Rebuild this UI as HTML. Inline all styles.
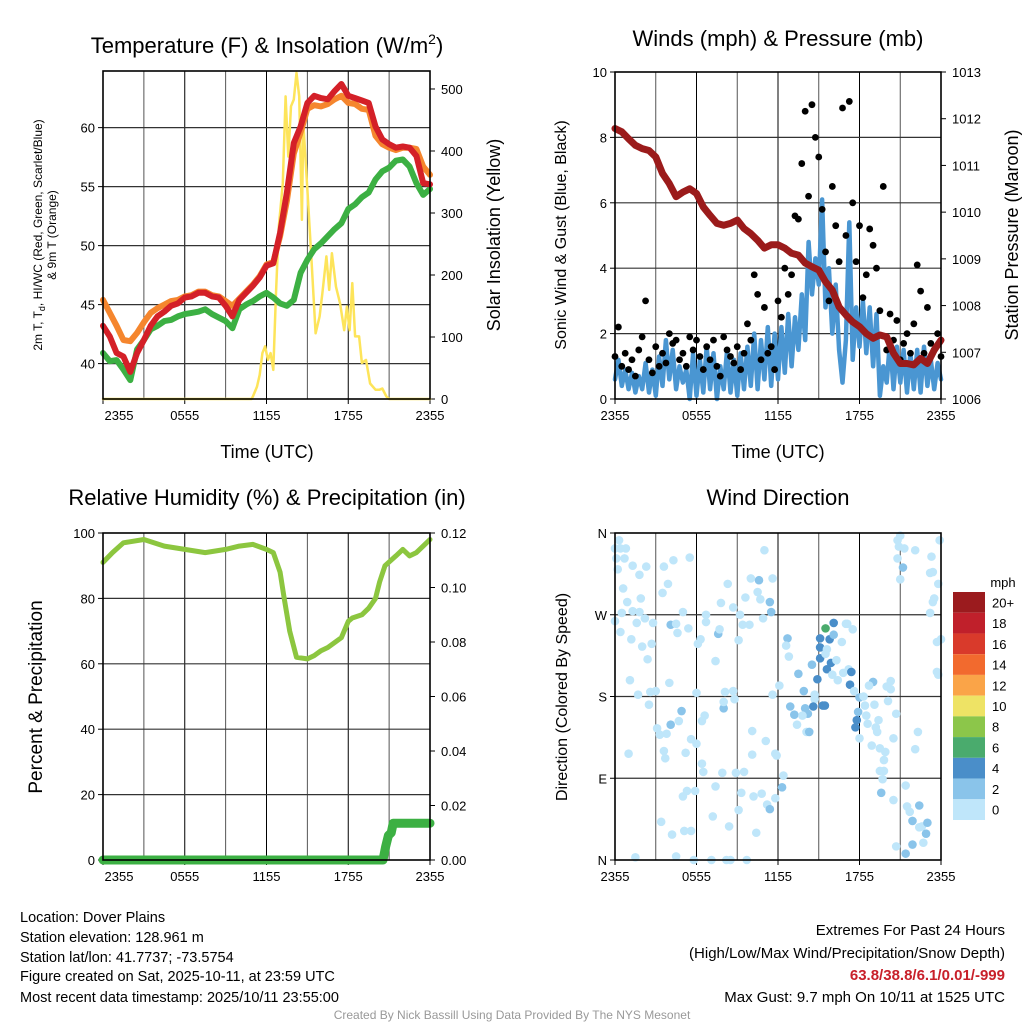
<!DOCTYPE html>
<html><head><meta charset="utf-8"><style>
html,body{margin:0;padding:0;background:#fff;}
svg{display:block;font-family:"Liberation Sans",sans-serif;}
</style></head><body>
<svg id="fig" width="1024" height="1024" viewBox="0 0 1024 1024" xmlns="http://www.w3.org/2000/svg">
<rect width="1024" height="1024" fill="#fff"/>
<g id="g"></g>
<text x="267" y="53" font-size="22" text-anchor="middle">Temperature (F) &amp; Insolation (W/m<tspan dy="-9" font-size="14">2</tspan><tspan dy="9">)</tspan></text>
<text x="778" y="46" font-size="22" text-anchor="middle">Winds (mph) &amp; Pressure (mb)</text>
<text x="267" y="505" font-size="22" text-anchor="middle">Relative Humidity (%) &amp; Precipitation (in)</text>
<text x="778" y="505" font-size="22" text-anchor="middle">Wind Direction</text>
<text x="267" y="458" font-size="18" text-anchor="middle">Time (UTC)</text>
<text x="778" y="458" font-size="18" text-anchor="middle">Time (UTC)</text>
<text transform="translate(42,235) rotate(-90)" font-size="12" text-anchor="middle">2m T, T<tspan dy="3" font-size="9">d</tspan><tspan dy="-3">, HI/WC (Red, Green, Scarlet/Blue)</tspan></text>
<text transform="translate(56,235) rotate(-90)" font-size="12" text-anchor="middle">&amp; 9m T (Orange)</text>
<text transform="translate(500,235) rotate(-90)" font-size="18" text-anchor="middle">Solar Insolation (Yellow)</text>
<text transform="translate(566,235) rotate(-90)" font-size="16" text-anchor="middle">Sonic Wind &amp; Gust (Blue, Black)</text>
<text transform="translate(1018,235) rotate(-90)" font-size="18" text-anchor="middle">Station Pressure (Maroon)</text>
<text transform="translate(42,697) rotate(-90)" font-size="19" text-anchor="middle">Percent &amp; Precipitation</text>
<text transform="translate(567,697) rotate(-90)" font-size="16" text-anchor="middle">Direction (Colored By Speed)</text>
<g font-size="14.5">
<text x="20" y="922">Location: Dover Plains</text>
<text x="20" y="942">Station elevation: 128.961 m</text>
<text x="20" y="962">Station lat/lon: 41.7737; -73.5754</text>
<text x="20" y="981">Figure created on Sat, 2025-10-11, at 23:59 UTC</text>
<text x="20" y="1002">Most recent data timestamp: 2025/10/11 23:55:00</text>
</g>
<g font-size="15" text-anchor="end">
<text x="1005" y="935">Extremes For Past 24 Hours</text>
<text x="1005" y="958">(High/Low/Max Wind/Precipitation/Snow Depth)</text>
<text x="1005" y="980" fill="#c8202a" font-weight="bold">63.8/38.8/6.1/0.01/-999</text>
<text x="1005" y="1002">Max Gust: 9.7 mph On 10/11 at 1525 UTC</text>
</g>
<text x="512" y="1019" font-size="12" fill="#999" text-anchor="middle">Created By Nick Bassill Using Data Provided By The NYS Mesonet</text>
</svg>
<script>
const xTickHours=[0,6,12,18,24];
const xTickLabels=['2355','0555','1155','1755','2355'];
const tHalf=[0,0.5,1,1.5,2,2.5,3,3.5,4,4.5,5,5.5,6,6.5,7,7.5,8,8.5,9,9.5,10,10.5,11,11.5,12,12.5,13,13.5,14,14.5,15,15.5,16,16.5,17,17.5,18,18.5,19,19.5,20,20.5,21,21.5,22,22.5,23,23.5,24];
const tempRed=[43.2,42.3,40.9,40.6,39.3,40.9,42.0,43.2,44.0,44.4,44.9,45.1,45.6,45.7,46.0,46.0,45.7,45.6,44.9,44.0,45.4,46.0,46.6,47.3,48.3,48.5,51.1,54.5,58.7,60.1,62.1,62.7,62.5,62.4,63.1,63.7,62.7,62.5,62.3,62.1,60.1,59.0,58.6,58.3,58.4,58.3,57.6,55.3,55.2];
const tempOrange=[45.4,44.3,43.2,42.0,41.9,42.6,43.5,44.3,44.7,45.0,45.3,45.4,45.7,45.8,46.1,46.1,45.8,45.7,45.3,44.9,45.5,46.1,46.7,47.4,48.4,48.6,50.8,53.8,57.8,59.6,61.6,61.9,61.8,62.0,62.4,62.7,62.1,62.0,61.6,61.5,59.3,58.6,58.3,58.1,58.3,58.3,58.2,56.7,56.0];
const dewGreen=[40.9,40.2,40.3,39.5,38.6,41.2,42.0,42.9,43.2,43.6,43.7,44.0,44.2,44.3,44.4,44.6,44.2,43.9,43.6,43.0,44.6,45.0,45.3,45.7,46.0,45.6,45.1,44.9,45.4,47.7,48.8,49.7,50.2,50.8,51.4,51.9,53.1,53.5,54.1,54.5,55.6,56.3,56.6,57.2,57.3,56.7,55.3,54.3,54.8];
const solarTime=[0,10.9,11.0,11.3,11.5,11.7,11.9,12.1,12.3,12.5,12.7,12.9,13.2,13.4,13.6,13.8,14.0,14.2,14.4,14.6,14.7,15.0,15.3,15.6,15.9,16.1,16.4,16.6,16.8,17.1,17.4,17.7,17.9,18.1,18.3,18.5,18.8,19.0,19.3,19.6,20.0,20.3,20.5,20.8,21.0,24];
const solarVal=[0,0,4,20,39,74,85,63,74,47,171,278,348,488,391,472,483,526,488,289,445,337,224,106,133,171,230,176,235,181,154,111,149,111,187,101,101,58,63,25,15,15,17,4,0,0];
const pressure=[1011.79,1011.72,1011.57,1011.43,1011.36,1011.32,1011.18,1010.83,1010.61,1010.33,1010.43,1010.50,1010.40,1010.11,1009.93,1009.76,1009.72,1009.76,1009.83,1009.65,1009.54,1009.40,1009.23,1009.30,1009.30,1009.23,1009.12,1009.08,1008.91,1008.83,1008.76,1008.51,1008.33,1007.97,1007.80,1007.65,1007.55,1007.40,1007.30,1007.37,1007.33,1006.98,1006.76,1006.76,1006.73,1006.87,1006.76,1007.05,1007.26];
const windSpeed=[0.6,1.2,0.4,0.9,0.3,0.8,0.2,0.7, 0.3,1.1,0.2,0.9,0.1,1.3,0.4,1.8, 0.6,1.5,0.3,1.0,0.5,0.9,0,1.4, 0.1,1.2,0.2,1.6,0.3,1.4,0,1.0, 0.3,1.5,0.2,1.2,0.1,1.4,0.3,1.6, 0.4,2.0,0.3,1.8,0.6,2.2,0.4,2.0, 0.6,2.2,0.8,2.6,1.0,2.5,1.5,3.2, 1.8,4.8,3.2,4.3,3.5,6.1,2.8,4.0, 2.0,3.5,1.5,0.5,1.8,5.4,1.2,2.8, 1.6,3.0,1.4,2.8,1.0,2.6,0.1,1.0, 0.5,1.8,0.3,1.6,0.5,1.5,0.2,1.4, 0.3,1.5,0.2,1.6,0.4,1.2,0.3,1.1,0.6];
const windGust=[1.3,2.2,1.0,1.4,0.9,1.2,0.7,1.5, 1.9,3.0,1.2,0.8,1.6,1.0,1.4,1.1, 2.0,1.7,1.8,1.2,1.4,1.0,1.9,1.5, 1.8,1.3,0.9,1.6,1.2,1.8,1.0,0.7, 1.9,1.5,1.3,1.1,1.6,0.9,1.4,2.3, 1.8,3.8,3.2,1.2,2.8,1.4,1.6,0.9, 3.0,2.5,4.0,3.2,3.8,5.6,5.5,7.2, 8.8,6.2,9.0,8.0,7.4,5.8,4.5,3.0, 6.5,5.3,4.2,8.9,5.0,9.1,6.0,4.2, 5.3,3.1,3.8,5.2,4.7,4.0,2.7,6.5, 1.5,2.6,1.8,2.4,1.2,1.7,2.0,1.4, 2.3,4.1,3.3,1.4,2.8,1.7,1.5,2.0,1.3];
const rhTime=[0,0.7,1.5,3,4.5,6,7.5,9,10,11,12,12.5,13,13.3,13.7,14.2,15,15.5,16,16.5,17.5,18,18.3,19,19.5,20,20.3,20.7,21.5,22,22.5,23,23.5,24];
const rhVal=[91,94,97,98,96,95,94,95,96,96.5,95,94,88,80,70,62,61.5,62.5,64,65,68,73,74,75,77,80,85,90,93,95,93,94,96,98];
const precipTime=[0,20.55,20.75,20.95,21.15,21.3,24];
const precipVal=[0,0,0.005,0.009,0.010,0.0135,0.0135];
const wdTime=[0.3,0,0.4,0.8,0.1,0.7,0.2,0.6,0.9,0.5,1.3,1.8,0,0.4,1.2,2.0,2.4,2.7,1.6,2.2,2.8,1.3,1.8,2.3,1.9,1.1,1.7,2.6,3.0,2.5,1.0,3.1,3.3,3.8,4.1,3.6,3.9,3.5,4.3,4.1,4.5,4.6,5.4,5.0,5.5,4.0,4.9,4.7,5.6,5.2,3.6,3.7,6.0,6.3,6.1,6.0,6.6,6.4,5.6,5.1,3.4,4.2,5.9,5.3,5.0,7.2,8.4,9.1,9.3,9.5,8.9,7.9,7.4,6.4,6.5,7.4,7.6,7.7,6.7,6.7,7.8,8.3,8.7,9.2,9.4,9.9,9.1,9.6,10.0,10.6,10.9,11.4,11.5,10.5,10.7,11.6,11.0,8.1,8.0,8.0,8.7,8.8,10.1,11.1,10.1,10.2,10.8,11.2,11.4,10.4,9.7,8.5,8.2,7.1,5.8,4.5,1.5,11.8,12.3,12.4,11.9,11.8,11.6,12.1,12.7,12.6,12.8,12.9,13.2,13.4,13.5,13.9,14.0,14.1,14.3,14.2,13.8,14.5,14.7,14.7,14.9,14.6,15.1,15.1,15.1,15.3,15.45,15.5,15.6,15.8,15.9,15.6,16.1,16.1,15.5,16.3,16.0,16.4,16.8,17.0,17.1,17.5,16.7,17.2,17.4,17.3,17.6,18.0,18.3,17.9,17.8,17.7,18.0,18.4,18.5,18.6,18.9,19.0,18.7,19.1,19.4,19.2,19.3,19.5,19.8,19.9,19.5,19.8,19.7,19.6,20.0,20.3,20.3,20.1,20.7,20.5,20.5,20.7,21.4,21.5,21.7,21.9,22.4,22.6,22.4,22.9,22.7,23.0,21.9,21.4,22.1,22.3,20.8,21.0,20.9,21.3,22.1,20.8,21.2,21.0,23.3,23.2,23.4,23.8,23.5,23.4,23.2,23.7,24,23.7,23.8,23.9];
const wdDir=[352,343,343,343,332,332,320,299,284,272,274,273,263,251,243,235,221,238,261,266,261,324,314,323,288,198,182,185,186,171,117,145,138,139,149,323,304,294,330,259,260,250,255,273,333,195,164,153,133,118,120,112,184,243,238,128,159,153,32,32,42,28,76,76,70,48,37,55,74,97,96,96,81,106,97,219,249,254,270,262,283,304,278,270,259,259,242,289,310,308,266,284,273,295,287,310,341,185,167,174,186,177,142,131,116,70,73,61,56,30,0,0,0,0,0,4,3,68,80,93,115,117,182,192,244,236,224,169,160,149,205,186,167,141,141,161,159,215,182,177,199,169,222,234,244,170,170,227,232,243,217,210,248,261,255,220,204,198,206,260,260,254,240,210,207,193,186,179,180,163,154,146,134,170,159,150,126,196,192,171,154,146,141,123,110,119,98,98,89,74,191,197,188,175,161,134,66,15,82,59,53,43,60,37,36,29,19,41,17,7,122,141,352,357,345,343,341,332,322,309,334,316,317,304,288,284,272,240,243,207,204,352];
const wdSpd=[1,1,1,1,1,1,1,1,1,1,1,1,1,1,1,1,1,1,1,1,1,1,1,1,1,1,1,1,1,1,1,1,1,1,3,1,1,1,1,3,1,1,1,1,1,1,3,1,1,1,1,1,1,1,1,1,1,1,1,1,1,1,1,1,1,1,1,1,1,1,1,1,1,1,1,1,3,1,1,1,1,1,1,1,1,1,1,1,1,3,1,3,3,1,1,1,1,1,3,1,1,1,1,1,1,1,1,1,3,1,1,1,1,1,1,1,1,1,3,1,1,1,1,1,3,1,1,3,3,1,3,3,3,1,3,3,1,3,1,1,4.5,4.5,4.5,4.5,4.5,4.5,4.5,1,1,4.5,4.5,4.5,3,4.5,7,1,1,1,1,1,1,1,1,1,4.5,4.5,1,3,1,3,4.5,4.5,1,1,1,1,1,3,1,1,1,1,1,1,1,1,1,1,1,3,1,1,1,1,1,1,1,1,1,1,1,3,3,1,1,3,1,3,3,3,1,1,1,1,1,1,1,1,3,1,1,1,1,1,1,1,1,1,1,1,1,1,1,1];
const cbLabels=['20+','18','16','14','12','10','8','6','4','2','0'];
const cbColors=['#9b1b1e','#c0202b','#d93a2b','#f26a2e','#faa448','#eee365','#8cc64a','#4aab6d','#4a8ec9','#8ac4ea','#bfe6fa'];

const NS='http://www.w3.org/2000/svg';
const G=document.getElementById('g');
function el(tag,attrs,parent){const e=document.createElementNS(NS,tag);for(const k in attrs)e.setAttribute(k,attrs[k]);(parent||G).appendChild(e);return e;}
function lin(d0,d1,r0,r1){return v=>r0+(v-d0)/(d1-d0)*(r1-r0);}

const P=[
 {x0:103,x1:430,y0:71,y1:399,l:[37.0,64.8],r:[0,529]},
 {x0:615,x1:941,y0:72,y1:399,l:[0,10],r:[1006,1013]},
 {x0:103,x1:430,y0:533,y1:860,l:[0,100],r:[0,0.12]},
 {x0:615,x1:941,y0:533,y1:860,l:[0,360],r:null}
];
P.forEach(p=>{p.X=lin(0,24,p.x0,p.x1);p.YL=lin(p.l[0],p.l[1],p.y1,p.y0);if(p.r)p.YR=lin(p.r[0],p.r[1],p.y1,p.y0);});

function frame(p,name,leftTicks,leftLabels,rightTicks,rightLabels,hgrid){
  for(let h=3;h<24;h+=3){const l=el('line',{x1:p.X(h),x2:p.X(h),y1:p.y0,y2:p.y1,stroke:h%6==0?'#000':'#555','stroke-width':1});
    
    }
  hgrid.forEach(v=>{const y=p.YL(v);const l=el('line',{x1:p.x0,x2:p.x1,y1:y,y2:y,stroke:'#333','stroke-width':1.2});
    
    });
  leftTicks.forEach((v,i)=>{const y=p.YL(v);
    const tk=el('line',{x1:p.x0-5,x2:p.x0,y1:y,y2:y,stroke:'#000','stroke-width':1});
    
    
    const t=el('text',{x:p.x0-8,y:y+5,'font-size':13,'text-anchor':'end'});t.textContent=leftLabels[i];
    
    });
  if(rightTicks)rightTicks.forEach((v,i)=>{const y=p.YR(v);
    const tk=el('line',{x1:p.x1,x2:p.x1+5,y1:y,y2:y,stroke:'#000','stroke-width':1});
    
    
    const t=el('text',{x:p.x1+11,y:y+5,'font-size':13});t.textContent=rightLabels[i];
    
    });
  xTickHours.forEach((h,i)=>{const x=p.X(h);
    const tk=el('line',{x1:x,x2:x,y1:p.y1,y2:p.y1+5,stroke:'#000','stroke-width':1});
    
    
    const t=el('text',{x:x+(i==0&&p.x0<200?16:0),y:p.y1+21,'font-size':13,'text-anchor':'middle'});t.textContent=xTickLabels[i];
    
    });
}
function border(p,name){const r=el('rect',{x:p.x0,y:p.y0,width:p.x1-p.x0,height:p.y1-p.y0,fill:'none',stroke:'#000','stroke-width':1.6});
  
  }
function path(p,xs,ys,yf,color,w,name){let d='';xs.forEach((t,i)=>{d+=(i?'L':'M')+p.X(t).toFixed(1)+','+yf(ys[i]).toFixed(1);});
  const e=el('path',{d:d,fill:'none',stroke:color,'stroke-width':w,'stroke-linejoin':'round','stroke-linecap':'round'});
  
  return e;}

let p=P[0];
frame(p,'temp',[40,45,50,55,60],['40','45','50','55','60'],[0,100,200,300,400,500],['0','100','200','300','400','500'],[40,45,50,55,60]);
path(p,solarTime,solarVal,p.YR,'#fde45a',2.5,'solar-line');
path(p,tHalf,dewGreen,p.YL,'#3cb043',6,'dewpoint-line');
path(p,tHalf,tempOrange,p.YL,'#f5862e',6,'temp-9m-line');
path(p,tHalf,tempRed,p.YL,'#d42028',6,'temp-2m-line');
border(p,'temp');

p=P[1];
frame(p,'winds',[0,2,4,6,8,10],['0','2','4','6','8','10'],[1006,1007,1008,1009,1010,1011,1012,1013],['1006','1007','1008','1009','1010','1011','1012','1013'],[2,4,6,8]);
const tq=windSpeed.map((v,i)=>i*0.25);
path(p,tq,windSpeed,p.YL,'#4a96d2',4.5,'wind-speed-line');
windGust.forEach((v,i)=>{const c=el('circle',{cx:p.X(i*0.25),cy:p.YL(v),r:3.4,fill:'#000'});
  
  });
path(p,tHalf,pressure,p.YR,'#9b1b1b',7,'pressure-line');
border(p,'winds');

p=P[2];
frame(p,'humidity',[0,20,40,60,80,100],['0','20','40','60','80','100'],[0,0.02,0.04,0.06,0.08,0.1,0.12],['0.00','0.02','0.04','0.06','0.08','0.10','0.12'],[20,40,60,80]);
path(p,rhTime,rhVal,p.YL,'#8cc63f',5,'humidity-line');
path(p,precipTime,precipVal,p.YR,'#3cb043',9,'precip-line');
border(p,'humidity');

p=P[3];
frame(p,'direction',[0,90,180,270,360],['N','E','S','W','N'],null,null,[90,180,270]);
function spdColor(s){const idx=10-Math.min(10,Math.floor(s/2));return cbColors[idx];}
wdTime.forEach((t,i)=>{const c=el('circle',{cx:p.X(t),cy:p.YL(wdDir[i]),r:4.3,fill:spdColor(wdSpd[i])});
  
  });
border(p,'direction');

const cbT=el('text',{x:1003,y:587,'font-size':13,'text-anchor':'middle'});cbT.textContent='mph';


const bh=(820-592)/cbLabels.length;
cbLabels.forEach((lab,i)=>{const y=592+i*bh;
  const r=el('rect',{x:953,y:y,width:32,height:bh,fill:cbColors[i]});
  
  
  const t=el('text',{x:992,y:y+bh/2+5,'font-size':13});t.textContent=lab;
  
  });
</script>
</body></html>
